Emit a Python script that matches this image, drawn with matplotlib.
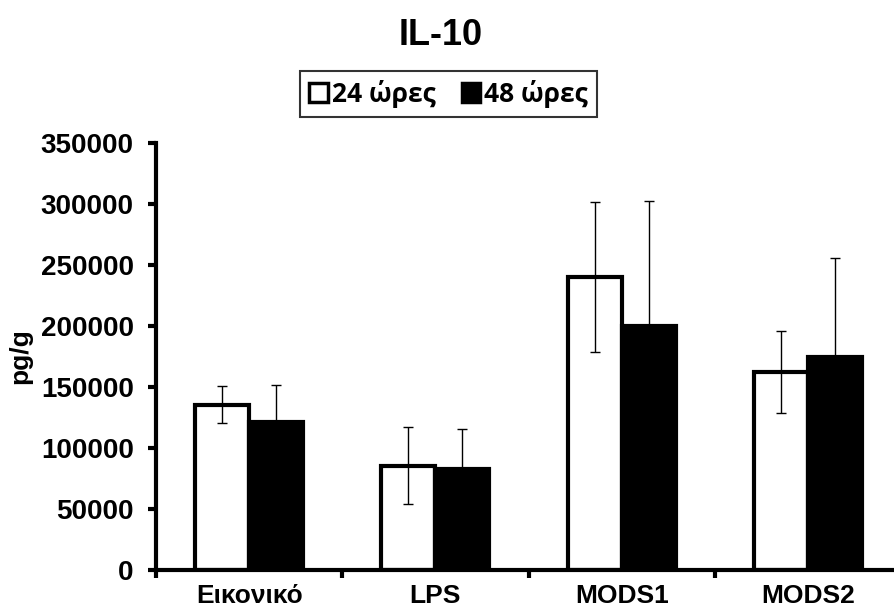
import numpy as np
import matplotlib
matplotlib.use('Agg')
import matplotlib.pyplot as plt

# data
categories = ['Εικονικό', 'LPS', 'MODS1', 'MODS2']
series = ['24 ώρες', '48 ώρες']
h24 = [135500, 85500, 240000, 162500]
h24_err = [15000, 31500, 61500, 33500]
h48 = [121000, 82500, 200000, 175000]
h48_err = [31000, 33000, 102500, 80500]
yticks = [0, 50000, 100000, 150000, 200000, 250000, 300000, 350000]

plt.rcParams['font.family'] = ['Liberation Sans', 'DejaVu Sans']
plt.rcParams['font.weight'] = 'bold'

fig = plt.figure(figsize=(8.94, 6.14), dpi=100)
ax = fig.add_axes([0.1745, 0.0717, 0.8335, 0.6953])

x = np.arange(len(categories))
w = 0.29
ekw = dict(ecolor='black', elinewidth=1, capsize=3.5, capthick=1)
ax.bar(x - w/2, h24, w, color='white', edgecolor='black', linewidth=3,
       yerr=h24_err, error_kw=ekw, label=series[0])
ax.bar(x + w/2, h48, w, color='black', edgecolor='black', linewidth=3,
       yerr=h48_err, error_kw=ekw, label=series[1])

ax.set_xlim(-0.5, len(categories) - 0.5)
ax.set_ylim(0, 350000)
ax.set_yticks(yticks)
ax.set_yticklabels([str(v) for v in yticks], fontsize=20, fontweight='bold')
# category labels between boundary ticks (Excel style)
ax.set_xticks(np.arange(len(categories) + 1) - 0.5)
ax.set_xticklabels([])
ax.set_xticks(x, minor=True)
ax.set_xticklabels(categories, minor=True, fontsize=19, fontweight='bold')
ax.tick_params(axis='x', which='minor', length=0, pad=10)
ax.tick_params(axis='x', which='major', length=6, width=3, direction='out')
ax.tick_params(axis='y', length=6, width=3, direction='out', pad=10)

for s in ['top', 'right']:
    ax.spines[s].set_visible(False)
for s in ['left', 'bottom']:
    ax.spines[s].set_linewidth(3)

ax.set_ylabel('pg/g', fontsize=19, fontweight='bold', labelpad=6)

fig.suptitle('IL-10', fontsize=26, fontweight='bold', x=0.493, y=0.97)

leg = fig.legend(loc='center', bbox_to_anchor=(0.502, 0.847),
                 ncol=2, frameon=True, fancybox=False, edgecolor='black',
                 handlelength=0.7, handleheight=0.7, handletextpad=0.15,
                 columnspacing=1.0, borderpad=0.35,
                 prop={'family': ['Open Sans', 'DejaVu Sans'], 'weight': 'bold', 'size': 19})
leg.get_frame().set_linewidth(1.5)
for p in leg.get_patches():
    p.set_linewidth(2.5)

plt.savefig('out.png', dpi=100)
plt.close(fig)
